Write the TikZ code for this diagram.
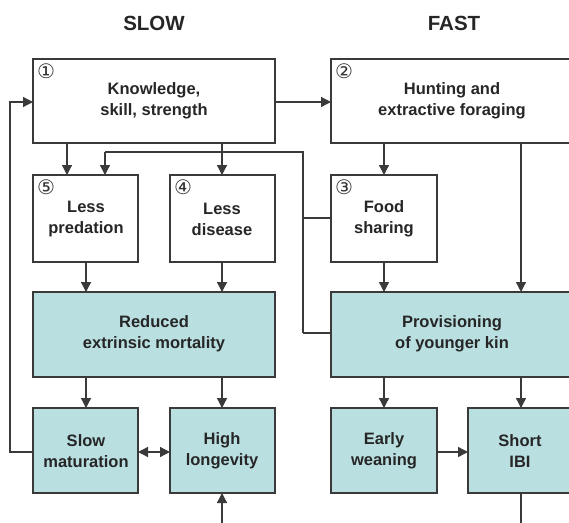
\documentclass[tikz,border=0pt]{standalone}
\usepackage{fontspec}
\setmainfont{Liberation Sans}
\newfontfamily\symfont{DejaVu Sans}
\usetikzlibrary{arrows.meta}
\definecolor{boxfill}{HTML}{BADFE1}
\definecolor{linec}{HTML}{3A3A3A}
\begin{document}
\begin{tikzpicture}[x=1pt,y=-1pt,
  every node/.style={inner sep=0pt,outer sep=0pt},
  plain/.style={draw=linec,line width=1.3pt,fill=white},
  teal/.style={draw=linec,line width=1.3pt,fill=boxfill},
  lbl/.style={font=\fontsize{16.5}{21}\selectfont\bfseries,align=center,text=black!85},
  hdr/.style={font=\fontsize{20.5}{24}\selectfont\bfseries,text=black!85},
  num/.style={font=\fontsize{20}{20}\selectfont\symfont,text=black!80},
  conn/.style={draw=linec,line width=1.3pt},
  arr/.style={conn,-{Triangle[length=10pt,width=10pt]}},
  darr/.style={conn,{Triangle[length=10pt,width=10pt]}-{Triangle[length=10pt,width=10pt]}}]
\useasboundingbox (0,0) rectangle (569,522);
\clip (0,0) rectangle (569,522);
\fill[white] (0,0) rectangle (569,522);
% headers
\node[hdr] (hslow) at (154,23) {SLOW};
\node[hdr] (hfast) at (454,23) {FAST};
% boxes
\path[plain] (33,59) rectangle (275,143) node[midway] (b1) {};
\node[lbl] (t1) at (154,101) {Knowledge,\\skill, strength};
\path[plain] (331,59) rectangle (573,143) node[midway] (b2) {};
\node[lbl] (t2) at (452,101) {Hunting and\\extractive foraging};
\path[plain] (33,175) rectangle (138,262) node[midway] (b5) {};
\node[lbl] (t5) at (86,219) {Less\\predation};
\path[plain] (170,175) rectangle (275,262) node[midway] (b4) {};
\node[lbl] (t4) at (222,219) {Less\\disease};
\path[plain] (331,175) rectangle (437,262) node[midway] (b3) {};
\node[lbl] (t3) at (384,219) {Food\\sharing};
\path[teal] (33,292) rectangle (275,377) node[midway] (rm) {};
\node[lbl] (trm) at (154,334) {Reduced\\extrinsic mortality};
\path[teal] (331,292) rectangle (573,377) node[midway] (pv) {};
\node[lbl] (tpv) at (452,334) {Provisioning\\of younger kin};
\path[teal] (33,408) rectangle (138,493) node[midway] (sm) {};
\node[lbl] (tsm) at (86,451) {Slow\\maturation};
\path[teal] (170,408) rectangle (275,493) node[midway] (hl) {};
\node[lbl] (thl) at (222,451) {High\\longevity};
\path[teal] (331,408) rectangle (437,493) node[midway] (ew) {};
\node[lbl] (tew) at (384,451) {Early\\weaning};
\path[teal] (468,408) rectangle (573,493) node[midway] (si) {};
\node[lbl] (tsi) at (520,451) {Short\\IBI};
% numbers
\node[num] (n1) at (46,71) {①};
\node[num] (n2) at (344,71) {②};
\node[num] (n5) at (46,187) {⑤};
\node[num] (n4) at (183,187) {④};
\node[num] (n3) at (344,187) {③};
% coordinates
\coordinate (c1b) at (67,143);
\coordinate (c5t) at (67,175);
\coordinate (c5t2) at (105,175);
\coordinate (hl1) at (105,152);
\coordinate (hr1) at (303,152);
\coordinate (pvl) at (331,333);
\coordinate (vx) at (303,333);
\coordinate (fs) at (303,218);
\coordinate (b3l) at (331,218);
\coordinate (b1r) at (275,102);
\coordinate (b2l) at (331,102);
\coordinate (b1l) at (33,102);
\coordinate (fbx) at (10,102);
\coordinate (fbb) at (10,452);
\coordinate (sml) at (33,452);
\coordinate (smr) at (138,452);
\coordinate (hll) at (170,452);
\coordinate (ewr) at (437,452);
\coordinate (sil) at (468,452);
% connectors
\draw[arr] (b1r) -- (b2l);
\draw[arr] (c1b) -- (c5t);
\draw[arr] (222,143) -- (222,175);
\draw[arr] (384,143) -- (384,175);
\draw[arr] (521,143) -- (521,292);
\draw[conn] (vx) -- (hr1) -- (hl1);
\draw[arr] (hl1) -- (c5t2);
\draw[conn] (vx) -- (pvl);
\draw[conn] (fs) -- (b3l);
\draw[arr] (86,262) -- (86,292);
\draw[arr] (222,262) -- (222,292);
\draw[arr] (384,262) -- (384,292);
\draw[arr] (86,377) -- (86,408);
\draw[arr] (222,377) -- (222,408);
\draw[arr] (384,377) -- (384,408);
\draw[arr] (521,377) -- (521,408);
\draw[darr] (smr) -- (hll);
\draw[arr] (ewr) -- (sil);
\draw[arr] (sml) -- (fbb) -- (fbx) -- (b1l);
\draw[arr] (222,530) -- (222,493);
\draw[conn] (521,493) -- (521,530);
\end{tikzpicture}
\end{document}
